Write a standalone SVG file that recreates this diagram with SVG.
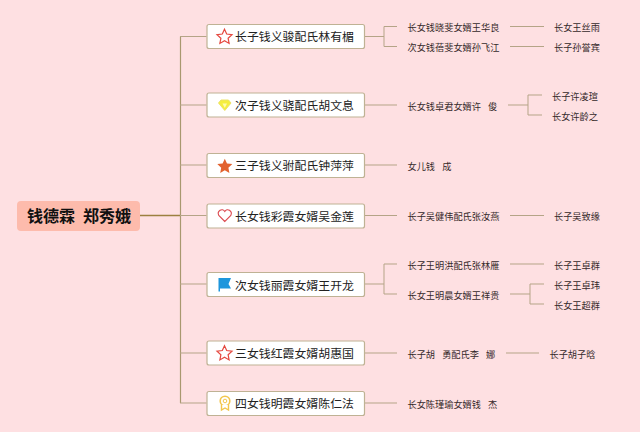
<svg xmlns="http://www.w3.org/2000/svg" width="640" height="432" viewBox="0 0 640 432">
<style>
text{font-family:"Noto Sans CJK SC","Liberation Sans",sans-serif;fill:#222}
.n rect{fill:#fff;stroke:#bfb294;stroke-width:1.2}
.n text{font-size:11.9px}
.s{font-size:9.2px;fill:#35292a}
.c path{fill:none;stroke:#b5a487;stroke-width:1}
</style>
<defs><path id="star" d="M0-7.3 2.2-2.5 7.5-1.9 3.6 1.700 4.600 6.900 0 4.300-4.600 6.900-3.600 1.700-7.500-1.900-2.200-2.500Z"/></defs>
<rect width="640" height="432" fill="#fee0e2"/>
<g id="connectors" class="c">
<path d="M140 215.500H180" style="stroke:#9c8040;stroke-width:1.6"/>
<path d="M180.500 36.500V403" style="stroke:#a8986f;stroke-width:1.200"/>
<path d="M180 36.500H206.500M180 105H206.500M180 165H206.500M180 215.500H206.500M180 284H206.500M180 353H206.500M180 403H206.500"/>
<path d="M364 36.500H384M397 26.500H384V46.500H397"/>
<path d="M510 26.500H544M510 46.500H544"/>
<path d="M364 105H397M508 105H528M542 95H528V115H542"/>
<path d="M364 165H397"/>
<path d="M364 215.500H397M510 215.500H544"/>
<path d="M364 284H384M397 264H384V294H397M510 264H544"/>
<path d="M510 294H530M544 284H530V304H544"/>
<path d="M364 353H397M506 353H539"/>
<path d="M364 403H397"/>
</g>
<g id="root"><rect x="17" y="201" width="123" height="30" rx="4" fill="#fdbbac"/>
<text x="27" y="222" font-size="16" font-weight="700" style="fill:#111">钱德霖</text><text x="83" y="222" font-size="16" font-weight="700" style="fill:#111">郑秀娥</text></g>

<g id="n1" class="n"><rect x="207" y="24.500" width="157.500" height="24" rx="2"/><use href="#star" x="224.500" y="36.500" fill="#fff" stroke="#e5483f" stroke-width="1.200"/><text x="235" y="41">长子钱义骏配氏林有楣</text></g>
<g id="n2" class="n"><rect x="207" y="93" width="157.500" height="24" rx="2"/><path d="M221 100H228.500L231 103 224.800 110.500 218.500 103Z" fill="#f5ee3f" stroke="#ece26a"/><path d="M222.500 103.500 224.800 108 227 103.500Z" fill="#fffbb0"/><text x="235" y="110">次子钱义骁配氏胡文息</text></g>
<g id="n3" class="n"><rect x="207" y="153.500" width="157.500" height="24" rx="2"/><use href="#star" x="224.800" y="166" fill="#e2622f"/><text x="235" y="170">三子钱义驸配氏钟萍萍</text></g>
<g id="n4" class="n"><rect x="207" y="204" width="157.500" height="24" rx="2"/><path d="M224.800 221.500 218.800 215.500C216.500 211 222.500 207.500 224.800 211.500 227 207.500 233 211 230.800 215.500Z" fill="#fff" stroke="#dc4a50" stroke-width="1.100"/><text x="235" y="221">长女钱彩霞女婿吴金莲</text></g>
<g id="n5" class="n"><rect x="207" y="272.500" width="157.500" height="24" rx="2"/><path d="M218.500 278H231L228.500 284 231 288.500H220V291.500H218.500Z" fill="#1e96dc"/><text x="235" y="290">次女钱丽霞女婿王开龙</text></g>
<g id="n6" class="n"><rect x="207" y="341" width="157.500" height="24" rx="2"/><use href="#star" x="224.500" y="353" fill="#fff" stroke="#e5483f" stroke-width="1.200"/><text x="235" y="358">三女钱红霞女婿胡惠国</text></g>
<g id="n7" class="n"><rect x="207" y="391.500" width="157.500" height="24" rx="2"/><circle cx="225" cy="401" r="4.800" fill="#fff" stroke="#f3c64d" stroke-width="1.600"/><circle cx="225" cy="401" r="1.800" fill="none" stroke="#f3c64d"/><path d="M221.500 405V410L225 408 228.500 410V405" fill="#fff" stroke="#f3c64d" stroke-width="1.400"/><text x="235" y="408">四女钱明霞女婿陈仁法</text></g>

<g id="t1"><text class="s" x="407.500" y="31">长女钱晓斐女婿王华良</text></g>
<g id="t2"><text class="s" x="407.500" y="50.500">次女钱蓓斐女婿孙飞江</text></g>
<g id="t3"><text class="s" x="554" y="31">长女王丝雨</text></g>
<g id="t4"><text class="s" x="554" y="50.500">长子孙誉宾</text></g>
<g id="t5"><text class="s" x="407.500" y="109.500">长女钱卓君女婿许 <tspan dx="5">俊</tspan></text></g>
<g id="t6"><text class="s" x="552" y="99.500">长子许凌瑄</text></g>
<g id="t7"><text class="s" x="552" y="119.500">长女许龄之</text></g>
<g id="t8"><text class="s" x="407.500" y="170">女儿钱 <tspan dx="5">成</tspan></text></g>
<g id="t9"><text class="s" x="407.500" y="220">长子吴健伟配氏张汝燕</text></g>
<g id="t10"><text class="s" x="554" y="220">长子吴致缘</text></g>
<g id="t11"><text class="s" x="407.500" y="268.500">长子王明洪配氏张林雁</text></g>
<g id="t12"><text class="s" x="554" y="268.500">长子王卓群</text></g>
<g id="t13"><text class="s" x="407.500" y="298.500">长女王明晨女婿王祥贵</text></g>
<g id="t14"><text class="s" x="554" y="288.500">长子王卓玮</text></g>
<g id="t15"><text class="s" x="554" y="308.500">长女王超群</text></g>
<g id="t16"><text class="s" x="407.500" y="357.500">长子胡 <tspan dx="5">勇配氏李 </tspan><tspan dx="5">娜</tspan></text></g>
<g id="t17"><text class="s" x="549.500" y="357.500">长子胡子晗</text></g>
<g id="t18"><text class="s" x="407.500" y="407.500">长女陈瑾瑜女婿钱 <tspan dx="5">杰</tspan></text></g>
</svg>
